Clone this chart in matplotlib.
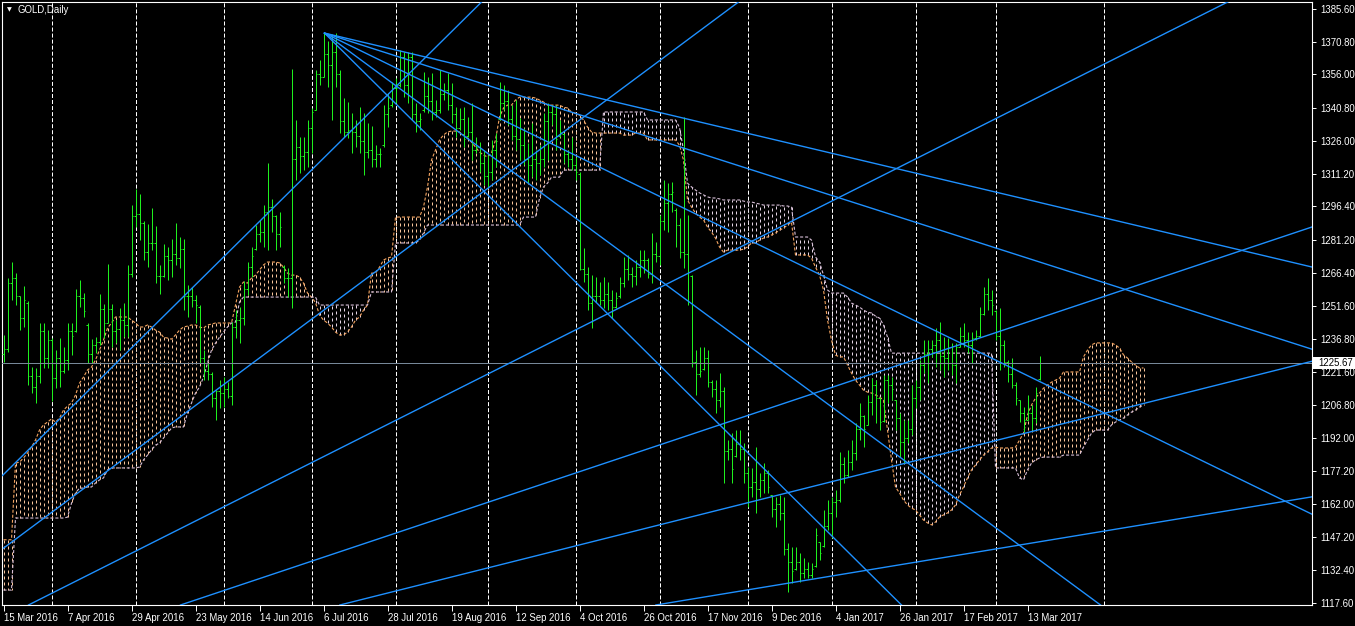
import matplotlib
matplotlib.use("Agg")
import matplotlib.pyplot as plt
from matplotlib.collections import LineCollection
from matplotlib.patches import Rectangle

plt.rcParams['lines.scale_dashes'] = False
plt.rcParams['font.family'] = ['Liberation Sans', 'DejaVu Sans']

# ---------------- data ----------------
highs = [
    1238.4, 1264.1, 1271.3, 1266.3, 1256.0, 1260.5, 1253.7, 1223.9, 1223.5, 1243.8,
    1243.8, 1240.6, 1237.0, 1231.6, 1237.0, 1233.0, 1243.8, 1243.8, 1259.1, 1263.2,
    1257.3, 1243.8, 1236.5, 1237.4, 1256.9, 1252.3, 1270.4, 1252.3, 1245.1, 1250.6,
    1252.8, 1269.9, 1297.0, 1304.2, 1302.0, 1289.8, 1288.4, 1295.7, 1287.5, 1269.9,
    1279.4, 1278.1, 1281.7, 1288.9, 1282.6, 1281.7, 1260.9, 1260.0, 1256.4, 1251.9,
    1231.6, 1225.7, 1221.7, 1213.5, 1218.0, 1219.4, 1217.1, 1244.2, 1249.6, 1251.0,
    1262.7, 1271.3, 1278.1, 1288.0, 1290.2, 1297.0, 1316.0, 1299.7, 1292.5, 1293.8,
    1269.9, 1268.6, 1358.4, 1335.4, 1327.7, 1327.7, 1335.4, 1340.8, 1357.9, 1362.4,
    1374.6, 1371.0, 1374.2, 1374.6, 1357.9, 1345.3, 1343.5, 1338.5, 1335.4, 1341.2,
    1338.5, 1334.0, 1332.7, 1324.1, 1322.7, 1342.1, 1347.5, 1352.5, 1354.3, 1366.9,
    1366.0, 1366.0, 1366.0, 1343.0, 1338.5, 1357.0, 1354.8, 1356.6, 1344.4, 1357.9,
    1352.1, 1356.6, 1352.1, 1341.2, 1340.8, 1341.2, 1336.7, 1343.0, 1327.7, 1325.4,
    1321.8, 1319.6, 1326.3, 1329.5, 1352.5, 1351.1, 1348.9, 1342.1, 1344.4, 1336.3,
    1331.8, 1325.0, 1334.0, 1321.8, 1324.1, 1338.5, 1343.0, 1342.1, 1342.1, 1335.4,
    1329.5, 1321.8, 1327.7, 1318.7, 1311.9, 1277.6, 1269.0, 1265.4, 1264.5, 1262.3,
    1264.5, 1262.3, 1258.7, 1257.8, 1264.5, 1273.5, 1274.4, 1269.0, 1272.2, 1276.7,
    1276.7, 1273.1, 1284.4, 1280.3, 1292.5, 1308.3, 1306.9, 1307.4, 1295.7, 1291.1,
    1336.7, 1292.5, 1265.4, 1231.6, 1232.9, 1232.9, 1231.6, 1218.0, 1218.0, 1221.2,
    1214.9, 1191.0, 1194.1, 1195.5, 1195.5, 1189.6, 1178.8, 1178.3, 1187.8, 1176.1,
    1180.6, 1177.4, 1166.2, 1165.3, 1166.2, 1165.3, 1144.5, 1142.7, 1142.7, 1140.0,
    1137.7, 1135.9, 1135.5, 1151.3, 1145.0, 1159.4, 1163.9, 1165.3, 1168.4, 1185.6,
    1183.3, 1186.5, 1191.0, 1198.6, 1207.7, 1202.3, 1211.3, 1219.0, 1218.0, 1210.4,
    1220.3, 1220.3, 1219.4, 1209.0, 1203.2, 1200.0, 1200.0, 1215.8, 1218.0, 1227.1,
    1236.1, 1236.1, 1236.1, 1241.5, 1244.2, 1237.4, 1237.0, 1234.7, 1234.7, 1242.0,
    1243.8, 1239.7, 1239.7, 1240.6, 1251.0, 1260.0, 1264.1, 1258.7, 1249.6, 1250.5,
    1236.1, 1227.1, 1228.0, 1217.1, 1209.0, 1205.9, 1211.3, 1206.8, 1214.9, 1228.9,
]
lows = [
    1226.2, 1230.7, 1254.2, 1251.9, 1240.6, 1242.0, 1215.8, 1212.2, 1207.7, 1216.7,
    1223.5, 1223.5, 1208.6, 1214.5, 1214.9, 1221.2, 1222.6, 1229.4, 1239.7, 1251.0,
    1246.5, 1225.7, 1225.7, 1230.2, 1233.9, 1237.0, 1243.8, 1233.0, 1234.7, 1231.6,
    1237.4, 1237.4, 1264.5, 1287.1, 1281.2, 1272.2, 1269.0, 1276.7, 1261.8, 1256.9,
    1264.5, 1263.2, 1264.5, 1269.9, 1268.6, 1249.6, 1246.5, 1251.0, 1243.8, 1225.7,
    1218.0, 1218.0, 1205.9, 1200.0, 1205.4, 1205.9, 1209.9, 1206.8, 1237.0, 1234.7,
    1242.9, 1256.4, 1264.5, 1276.7, 1280.3, 1278.1, 1276.7, 1284.8, 1276.7, 1278.1,
    1261.8, 1255.5, 1250.5, 1308.3, 1311.4, 1312.8, 1314.1, 1320.5, 1339.9, 1351.1,
    1354.8, 1350.2, 1335.4, 1350.2, 1329.5, 1327.7, 1327.2, 1320.5, 1323.2, 1320.5,
    1310.5, 1318.2, 1314.1, 1314.1, 1314.1, 1323.2, 1332.2, 1341.2, 1343.0, 1350.2,
    1345.7, 1343.0, 1335.4, 1330.0, 1330.9, 1339.0, 1338.5, 1335.4, 1336.7, 1338.5,
    1344.4, 1339.9, 1334.0, 1327.7, 1330.9, 1323.2, 1327.7, 1317.3, 1320.5, 1311.9,
    1306.0, 1304.7, 1308.3, 1314.1, 1335.4, 1339.9, 1333.1, 1326.3, 1321.8, 1317.3,
    1315.1, 1306.9, 1309.6, 1308.3, 1310.5, 1314.1, 1317.3, 1333.1, 1321.8, 1327.7,
    1315.9, 1314.1, 1312.8, 1308.3, 1267.7, 1262.3, 1249.6, 1241.5, 1253.2, 1251.9,
    1250.5, 1249.6, 1246.0, 1250.5, 1255.0, 1260.0, 1263.2, 1260.0, 1260.9, 1264.5,
    1266.3, 1264.1, 1261.8, 1271.3, 1269.9, 1285.7, 1284.8, 1293.8, 1278.1, 1273.1,
    1268.6, 1251.9, 1223.9, 1211.3, 1219.4, 1222.5, 1214.9, 1210.4, 1203.2, 1205.9,
    1171.6, 1182.0, 1171.6, 1183.3, 1182.0, 1171.6, 1160.7, 1165.3, 1158.0, 1165.3,
    1167.1, 1167.1, 1156.2, 1151.7, 1154.9, 1139.1, 1122.4, 1126.4, 1132.3, 1126.9,
    1128.7, 1128.7, 1128.7, 1133.7, 1136.8, 1142.7, 1150.4, 1146.8, 1156.2, 1163.0,
    1171.6, 1174.3, 1177.4, 1182.0, 1191.0, 1187.8, 1197.7, 1202.3, 1198.6, 1195.5,
    1199.1, 1207.7, 1209.0, 1195.5, 1183.3, 1180.6, 1189.6, 1193.2, 1205.4, 1209.0,
    1221.2, 1216.7, 1228.4, 1223.9, 1222.5, 1219.4, 1222.5, 1220.3, 1216.7, 1233.0,
    1233.0, 1230.2, 1225.7, 1236.1, 1237.4, 1247.4, 1249.6, 1247.4, 1236.1, 1222.5,
    1223.9, 1217.1, 1214.5, 1206.8, 1199.1, 1194.6, 1200.0, 1195.5, 1198.6, 1218.0,
]
opens = [
    1230, 1232, 1262, 1264, 1256, 1246, 1253, 1220, 1215, 1220,
    1240, 1228, 1236, 1219, 1228, 1222, 1227, 1240, 1240, 1256,
    1255, 1243, 1230, 1234, 1235, 1250, 1244, 1250, 1240, 1241,
    1245, 1243, 1266, 1292, 1293, 1289, 1276, 1280, 1280, 1265,
    1265, 1274, 1272, 1275, 1273, 1277, 1256, 1256, 1254, 1251,
    1228, 1222, 1221, 1210, 1213, 1212, 1214, 1211, 1242, 1245,
    1246, 1259, 1269, 1277, 1284, 1285, 1294, 1296, 1292, 1284,
    1269, 1264, 1264, 1318, 1323, 1319, 1321, 1332, 1340, 1356,
    1355, 1365, 1360, 1366, 1356, 1335, 1330, 1331, 1330, 1328,
    1326, 1321, 1322, 1318, 1320, 1324, 1338, 1342, 1350, 1351,
    1364, 1351, 1364, 1338, 1335, 1340, 1346, 1344, 1339, 1340,
    1347, 1349, 1342, 1338, 1332, 1336, 1328, 1330, 1322, 1323,
    1316, 1310, 1312, 1322, 1336, 1343, 1344, 1336, 1328, 1327,
    1324, 1318, 1315, 1318, 1316, 1318, 1335, 1339, 1338, 1328,
    1329, 1320, 1318, 1315, 1311, 1268, 1266, 1253, 1256, 1256,
    1254, 1257, 1254, 1251, 1256, 1262, 1268, 1266, 1265, 1269,
    1272, 1272, 1266, 1275, 1274, 1290, 1298, 1302, 1295, 1288,
    1276, 1275, 1265, 1226, 1221, 1223, 1228, 1217, 1214, 1209,
    1213, 1186, 1187, 1184, 1189, 1187, 1176, 1170, 1172, 1169,
    1173, 1176, 1166, 1160, 1162, 1158, 1142, 1136, 1133, 1136,
    1131, 1133, 1130, 1134, 1145, 1143, 1152, 1158, 1163, 1164,
    1180, 1175, 1181, 1185, 1196, 1202, 1198, 1208, 1216, 1210,
    1199.5, 1218, 1216, 1209, 1201, 1190, 1192, 1196, 1210, 1215,
    1225, 1230, 1232, 1234, 1236, 1229, 1228, 1233, 1225, 1233,
    1238, 1236, 1234, 1237, 1238, 1248, 1257, 1254, 1249, 1238,
    1234, 1226, 1221, 1216, 1209, 1203, 1200, 1203, 1201, 1218.5,
]
closes = [
    1232, 1262, 1264, 1256, 1246, 1254, 1220, 1215, 1220, 1240,
    1228, 1236, 1219, 1228, 1222, 1227, 1240, 1238, 1256, 1255,
    1249, 1230, 1234, 1235, 1250, 1244, 1250, 1240, 1241, 1245,
    1243, 1266, 1292, 1293, 1289, 1276, 1280, 1280, 1265, 1265,
    1274, 1272, 1275, 1273, 1277, 1256, 1256, 1254, 1252, 1228,
    1222, 1221, 1210, 1213, 1212, 1214, 1211, 1242, 1245, 1246,
    1259, 1269, 1274, 1284, 1285, 1294, 1296, 1292, 1284, 1287,
    1264, 1264, 1318, 1323, 1319, 1321, 1332, 1339, 1356, 1355,
    1365, 1360, 1366, 1356, 1335, 1330, 1331, 1330, 1328, 1326,
    1321, 1322, 1318, 1320, 1320, 1338, 1341, 1350, 1350, 1364,
    1351, 1364, 1338, 1335, 1336, 1346, 1344, 1339, 1340, 1347,
    1349, 1342, 1338, 1332, 1336, 1327, 1330, 1322, 1323, 1316,
    1310, 1312, 1322, 1326, 1343, 1344, 1336, 1328, 1327, 1324,
    1318, 1315, 1318, 1316, 1318, 1335, 1339, 1338, 1327, 1330,
    1320, 1318, 1315, 1312, 1268, 1266, 1253, 1256, 1256, 1254,
    1257, 1254, 1251, 1255, 1262, 1268, 1266, 1265, 1269, 1272,
    1272, 1266, 1275, 1274, 1290, 1298, 1302, 1303, 1288, 1276,
    1275, 1267, 1226, 1221, 1222, 1228, 1217, 1214, 1209, 1213,
    1186, 1187, 1178, 1189, 1187, 1176, 1170, 1172, 1169, 1173,
    1176, 1170, 1160, 1162, 1158, 1142, 1136, 1132, 1136, 1131,
    1133, 1130, 1133, 1148, 1140, 1152, 1158, 1163, 1164, 1180,
    1175, 1181, 1185, 1196, 1202, 1196, 1208, 1216, 1210, 1199,
    1218, 1216, 1214, 1201, 1190, 1192, 1196, 1210, 1215, 1225,
    1230, 1232, 1234, 1236, 1229, 1228, 1233, 1225, 1233, 1238,
    1236, 1234, 1237, 1238, 1248, 1257, 1254, 1252, 1238, 1234,
    1226, 1221, 1216, 1210, 1203, 1200, 1203, 1201, 1212, 1225.67,
]

# Ichimoku Senkou spans (shifted 26 bars forward)
span_a = [
    1146.0, 1146.0, 1146.0, 1180.6, 1181.0, 1182.9, 1185.1, 1187.8, 1191.0, 1195.5,
    1197.8, 1199.1, 1200.5, 1199.1, 1200.9, 1204.5, 1206.3, 1207.7, 1211.3, 1216.7,
    1219.4, 1222.6, 1223.9, 1227.1, 1231.6, 1236.1, 1241.5, 1243.8, 1246.5, 1246.5,
    1246.5, 1246.5, 1245.1, 1243.8, 1242.0, 1242.0, 1242.9, 1242.0, 1240.6, 1239.7,
    1237.4, 1237.0, 1236.5, 1238.4, 1240.6, 1242.0, 1242.4, 1242.9, 1242.9, 1242.0,
    1241.5, 1242.9, 1243.3, 1243.8, 1243.8, 1243.8, 1243.8, 1243.8, 1251.9, 1260.0,
    1262.3, 1261.8, 1264.1, 1265.4, 1267.7, 1270.0, 1271.3, 1271.3, 1271.3, 1270.9,
    1269.0, 1266.3, 1265.4, 1265.4, 1264.5, 1261.8, 1257.3, 1255.5, 1253.0, 1247.4,
    1245.1, 1243.8, 1242.0, 1239.7, 1238.4, 1238.4, 1239.7, 1242.0, 1245.1, 1246.5,
    1249.6, 1251.9, 1266.3, 1266.3, 1269.0, 1272.2, 1273.1, 1273.6, 1291.6, 1291.6,
    1291.6, 1291.6, 1291.6, 1291.6, 1291.6, 1296.1, 1305.2, 1317.3, 1321.8, 1326.4,
    1328.6, 1330.0, 1330.4, 1330.4, 1330.0, 1328.6, 1327.2, 1325.4, 1323.2, 1320.9,
    1319.6, 1318.7, 1320.5, 1326.4, 1336.7, 1340.8, 1342.1, 1342.1, 1344.4, 1345.7,
    1345.7, 1345.7, 1345.7, 1345.3, 1344.4, 1343.5, 1342.1, 1342.1, 1342.1, 1342.1,
    1341.2, 1340.8, 1339.0, 1338.5, 1337.6, 1335.4, 1332.2, 1330.0, 1329.5, 1329.5,
    1329.5, 1329.5, 1329.5, 1329.5, 1329.5, 1328.6, 1328.6, 1328.6, 1329.5, 1329.5,
    1329.5, 1326.4, 1326.4, 1326.4, 1326.4, 1326.4, 1326.4, 1326.4, 1326.4, 1324.0,
    1317.3, 1299.3, 1296.1, 1293.4, 1291.6, 1290.3, 1287.1, 1284.8, 1282.1, 1278.1,
    1275.8, 1276.7, 1276.7, 1276.7, 1276.7, 1277.1, 1278.1, 1279.9, 1279.9, 1281.2,
    1282.1, 1282.6, 1283.5, 1284.4, 1285.7, 1286.6, 1288.0, 1289.3, 1274.5, 1274.5,
    1274.5, 1274.5, 1273.1, 1269.0, 1265.4, 1258.7, 1245.1, 1236.1, 1229.3, 1228.5,
    1228.5, 1224.8, 1221.2, 1218.0, 1215.8, 1213.5, 1212.6, 1212.2, 1211.3, 1210.4,
    1209.0, 1195.5, 1182.0, 1169.8, 1167.1, 1163.9, 1161.7, 1160.3, 1159.4, 1157.2,
    1154.9, 1153.6, 1152.7, 1154.0, 1156.3, 1157.2, 1158.1, 1159.4, 1161.7, 1166.2,
    1169.8, 1173.9, 1177.5, 1179.7, 1182.0, 1184.2, 1185.6, 1187.4, 1187.8, 1187.4,
    1187.4, 1187.4, 1187.4, 1187.8, 1191.0, 1194.1, 1202.3, 1206.8, 1209.9, 1212.2,
    1214.4, 1215.8, 1217.1, 1218.0, 1218.9, 1221.7, 1221.7, 1221.7, 1221.7, 1221.7,
    1228.5, 1231.6, 1233.9, 1234.8, 1234.8, 1234.8, 1234.8, 1234.8, 1233.9, 1232.5,
    1229.4, 1228.0, 1226.2, 1224.8, 1223.5, 1223.5,
]
span_b = [
    1123.3, 1123.3, 1123.3, 1155.8, 1155.8, 1155.8, 1155.8, 1155.8, 1155.8, 1155.8,
    1155.8, 1155.8, 1155.8, 1155.8, 1155.8, 1155.8, 1156.2, 1162.5, 1167.1, 1169.3,
    1169.3, 1169.8, 1169.8, 1171.6, 1173.0, 1173.9, 1177.5, 1178.4, 1178.4, 1178.4,
    1178.4, 1178.4, 1178.4, 1178.4, 1178.8, 1182.0, 1184.2, 1186.5, 1188.7, 1189.6,
    1191.9, 1194.1, 1196.4, 1196.9, 1196.9, 1196.9, 1203.2, 1207.7, 1212.2, 1214.9,
    1219.4, 1225.7, 1231.6, 1234.7, 1237.4, 1239.7, 1242.0, 1243.8, 1244.2, 1253.3,
    1255.5, 1255.5, 1255.5, 1255.5, 1255.5, 1255.5, 1255.5, 1255.5, 1255.5, 1255.5,
    1255.5, 1255.5, 1255.5, 1255.5, 1255.5, 1255.5, 1255.5, 1255.5, 1255.5, 1251.9,
    1251.9, 1251.9, 1251.9, 1251.9, 1251.9, 1251.9, 1251.9, 1251.9, 1251.9, 1251.9,
    1251.9, 1251.9, 1257.8, 1257.8, 1257.8, 1257.8, 1257.8, 1257.8, 1279.9, 1279.9,
    1279.9, 1279.9, 1279.9, 1279.9, 1281.2, 1284.4, 1288.0, 1288.0, 1288.0, 1288.0,
    1288.0, 1288.0, 1288.0, 1288.0, 1288.0, 1288.0, 1288.0, 1288.0, 1288.0, 1288.0,
    1288.0, 1288.0, 1288.0, 1288.0, 1288.0, 1288.0, 1288.0, 1288.0, 1288.0, 1288.0,
    1291.6, 1291.6, 1291.6, 1291.6, 1300.0, 1305.2, 1306.9, 1309.6, 1309.6, 1309.6,
    1312.8, 1312.8, 1312.8, 1312.8, 1312.8, 1312.8, 1312.8, 1312.8, 1312.8, 1312.8,
    1339.0, 1339.0, 1339.0, 1339.0, 1339.0, 1339.0, 1339.0, 1339.0, 1339.0, 1339.0,
    1339.0, 1335.4, 1335.4, 1335.4, 1335.4, 1335.4, 1335.4, 1335.4, 1335.4, 1332.0,
    1321.8, 1306.9, 1305.2, 1303.8, 1302.5, 1301.6, 1300.7, 1300.2, 1300.2, 1299.8,
    1299.3, 1299.3, 1299.3, 1299.3, 1299.3, 1298.8, 1298.4, 1298.4, 1297.9, 1297.5,
    1297.0, 1297.0, 1297.0, 1297.0, 1297.0, 1296.6, 1296.6, 1296.1, 1282.6, 1282.6,
    1282.6, 1282.6, 1281.2, 1273.6, 1271.3, 1265.4, 1258.7, 1257.3, 1257.3, 1257.3,
    1257.3, 1255.5, 1252.8, 1251.9, 1251.0, 1249.6, 1248.7, 1248.3, 1246.9, 1246.0,
    1242.9, 1237.4, 1230.2, 1230.2, 1230.2, 1230.2, 1230.2, 1230.2, 1230.2, 1230.2,
    1230.2, 1230.2, 1230.2, 1230.2, 1230.2, 1230.2, 1230.2, 1230.2, 1230.2, 1230.2,
    1230.2, 1230.2, 1230.2, 1230.2, 1230.2, 1230.2, 1230.2, 1230.2, 1178.4, 1178.4,
    1178.4, 1178.4, 1178.4, 1178.4, 1173.9, 1173.0, 1177.5, 1180.6, 1182.0, 1182.9,
    1183.3, 1183.3, 1183.3, 1183.3, 1183.3, 1184.2, 1184.2, 1184.2, 1184.2, 1184.2,
    1187.8, 1191.0, 1194.1, 1195.5, 1195.5, 1195.5, 1195.5, 1197.8, 1199.1, 1200.0,
    1200.9, 1202.3, 1203.6, 1204.5, 1205.9, 1206.8,
]

# Trend lines: (bar0, price0, bar1, price1)
fan_lines = [
    (80.25, 1374.6, 327.25, 1269.0),
    (80.25, 1374.6, 327.25, 1231.9),
    (80.25, 1374.6, 327.25, 1157.4),
    (80.25, 1374.6, 274.25, 1116.56),
    (80.25, 1374.6, 224.5, 1116.56),
]
rising_lines = [
    (-0.25, 1175.0, 120.0, 1389.5),
    (0.0, 1142.2, 184.4, 1389.5),
    (6.25, 1116.56, 307.0, 1389.5),
    (44.25, 1116.56, 327.25, 1287.2),
    (84.1, 1116.56, 327.25, 1226.6),
    (163.1, 1116.56, 327.25, 1165.4),
]

bid_price = 1225.67
month_grid_bars = [12, 33, 55, 77, 98, 121, 143, 164, 186, 207, 228, 248, 275]
date_labels = ["15 Mar 2016", "7 Apr 2016", "29 Apr 2016", "23 May 2016", "14 Jun 2016",
               "6 Jul 2016", "28 Jul 2016", "19 Aug 2016", "12 Sep 2016", "4 Oct 2016",
               "26 Oct 2016", "17 Nov 2016", "9 Dec 2016", "4 Jan 2017", "26 Jan 2017",
               "17 Feb 2017", "13 Mar 2017"]
label_step = 16
price_ticks = [1117.60, 1132.40, 1147.20, 1162.00, 1177.20, 1192.00, 1206.80, 1221.60,
               1236.80, 1251.60, 1266.40, 1281.20, 1296.40, 1311.20, 1326.00, 1340.80,
               1356.00, 1370.80, 1385.60]

# ---------------- styling ----------------
BAR_C = '#1EF01E'
SANDY = '#F4A460'
SANDY_FILL = '#F7C49A'
THISTLE = '#D8BFD8'
THISTLE_FILL = '#E4D4E4'
LINE_C = '#1E90FF'
BID_C = '#778899'
FS = 6.9
PX = 0.72  # one device pixel at 100 dpi
CLOUD_DASH = (0, (2.16, 2.16))

W, H = 1355, 626
fig = plt.figure(figsize=(W / 100, H / 100), dpi=100, facecolor='black')
ax = fig.add_axes([2 / W, (H - 605) / H, (1312 - 2) / W, (605 - 2) / H], facecolor='black')
# bar centres fall on pixel centres
ax.set_xlim(-0.375, 327.125)
ax.set_ylim(1116.56, 1388.63)

# month grid
ylo, yhi = ax.get_ylim()
ax.vlines(month_grid_bars, ylo, yhi, colors='white', linewidth=PX,
          linestyles=[(0, (2.9, 1.45))], zorder=1, snap=True)

# Ichimoku cloud as dotted histogram
cloud_up, cloud_dn = [], []
for i, (a, b) in enumerate(zip(span_a, span_b)):
    seg = [(i, a), (i, b)]
    (cloud_up if a >= b else cloud_dn).append(seg)
ax.add_collection(LineCollection(cloud_up, colors=SANDY_FILL, linewidths=PX,
                                 linestyles=[CLOUD_DASH], zorder=2, snap=True))
ax.add_collection(LineCollection(cloud_dn, colors=THISTLE_FILL, linewidths=PX,
                                 linestyles=[CLOUD_DASH], zorder=2, snap=True))
xs = list(range(len(span_a)))
ax.plot(xs, span_a, color=SANDY, lw=0.8, ls=(0, (2.2, 1.4)), zorder=2)
ax.plot(xs, span_b, color=THISTLE, lw=0.8, ls=(0, (2.2, 1.4)), zorder=2)

# OHLC bars
segs = []
for i in range(len(highs)):
    segs.append([(i, lows[i]), (i, highs[i])])
    segs.append([(i - 0.4, opens[i]), (i, opens[i])])
    segs.append([(i, closes[i]), (i + 0.4, closes[i])])
ax.add_collection(LineCollection(segs, colors=BAR_C, linewidths=PX, zorder=3, snap=True))

# bid line
ax.axhline(bid_price, color=BID_C, lw=PX, zorder=3.5, snap=True)

# trend lines
for (x0, y0, x1, y1) in fan_lines:
    ax.plot([x0, x1], [y0, y1], color=LINE_C, lw=1.0, zorder=4)
for (x0, y0, x1, y1) in rising_lines:
    ax.plot([x0, x1], [y0, y1], color=LINE_C, lw=1.0, zorder=4)

# axes / ticks
for s in ax.spines.values():
    s.set_color('white')
    s.set_linewidth(0.8)
ax.yaxis.tick_right()
ax.set_yticks(price_ticks)
ax.set_yticklabels([f"{v:.2f}" for v in price_ticks])
ax.set_xticks([k * label_step for k in range(len(date_labels))])
ax.set_xticklabels(date_labels)
for lab in ax.get_xticklabels():
    lab.set_horizontalalignment('left')
ax.tick_params(axis='y', colors='white', length=3, width=0.7, labelsize=FS, pad=3, direction='out')
ax.tick_params(axis='x', colors='white', length=4, width=0.7, labelsize=FS, pad=2, direction='out')

# bid price label
fig.patches.append(Rectangle((1313 / W, (H - 369) / H), 42 / W, 12 / H,
                             transform=fig.transFigure, facecolor='white', edgecolor='none', zorder=10))
fig.text(1318 / W, (H - 363) / H, f"{bid_price:.2f}", color='black', fontsize=FS,
         va='center', ha='left', zorder=11)

# title
fig.text(9 / W, 1 - 10 / H, '\u25BC', color='white', fontsize=4.5, ha='center', va='center',
         family='DejaVu Sans')
fig.text(18 / W, 1 - 10 / H, 'GOLD,Daily', color='white', fontsize=FS, ha='left', va='center')

fig.savefig('out.png', dpi=100, facecolor='black')
